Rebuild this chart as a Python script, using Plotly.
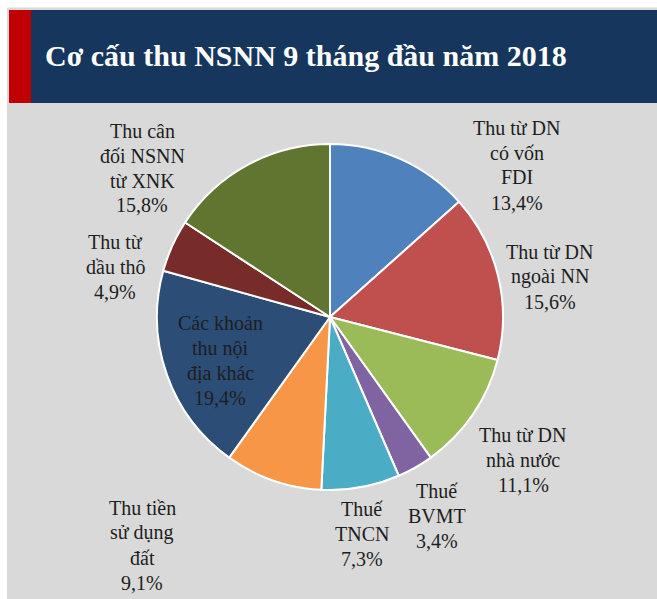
import plotly.graph_objects as go

W, H = 657, 599

title = "Cơ cấu thu NSNN 9 tháng đầu năm 2018"
categories = [
    "Thu từ DN<br>có vốn<br>FDI",
    "Thu từ DN<br>ngoài NN",
    "Thu từ DN<br>nhà nước",
    "Thuế<br>BVMT",
    "Thuế<br>TNCN",
    "Thu tiền<br>sử dụng<br>đất",
    "Các khoản<br>thu nội<br>địa khác",
    "Thu từ<br>dầu thô",
    "Thu cân<br>đối NSNN<br>từ XNK",
]
values = [13.4, 15.6, 11.1, 3.4, 7.3, 9.1, 19.4, 4.9, 15.8]
pct_labels = ["13,4%", "15,6%", "11,1%", "3,4%", "7,3%", "9,1%", "19,4%", "4,9%", "15,8%"]

colors = ["#4f81bd", "#c0504d", "#9bbb59", "#8064a2", "#4bacc6",
          "#f79646", "#2c4d75", "#772c2a", "#5f7530"]

# label block centre positions in pixels (x, y)
label_pos = [(517, 165), (550, 277), (523, 460), (437, 516), (362, 534),
             (142, 545), (220, 360), (115, 267), (142, 168)]
LINE_H = 25


def px(x):
    return x / W


def py(y):
    return 1 - y / H


cx, cy, r = 330, 317, 173

fig = go.Figure()
fig.add_trace(go.Pie(
    labels=[c.replace("<br>", " ") for c in categories],
    values=values,
    sort=False,
    direction="clockwise",
    rotation=0,
    textinfo="none",
    marker=dict(colors=colors, line=dict(color="white", width=2)),
    domain=dict(x=[px(cx - r), px(cx + r)], y=[py(cy + r), py(cy - r)]),
    showlegend=False,
))

shapes = [
    dict(type="rect", xref="paper", yref="paper", x0=px(7), x1=1.0, y0=0, y1=py(7.5),
         fillcolor="#d9d9d9", line=dict(width=0), layer="below"),
    dict(type="rect", xref="paper", yref="paper", x0=px(9), x1=1.0, y0=py(103), y1=py(10),
         fillcolor="#17365d", line=dict(width=0), layer="below"),
    dict(type="rect", xref="paper", yref="paper", x0=px(9), x1=px(31), y0=py(103), y1=py(10),
         fillcolor="#c00000", line=dict(width=0), layer="below"),
]

annotations = [
    dict(text="<b>" + title + "</b>", xref="paper", yref="paper", x=px(43), y=py(56),
         xanchor="left", yanchor="middle", showarrow=False,
         font=dict(family="Liberation Serif", size=30, color="white")),
]
for cat, pct, (lx, ly) in zip(categories, pct_labels, label_pos):
    lines = cat.split("<br>") + [pct]
    n = len(lines)
    for i, line in enumerate(lines):
        yy = ly + (i - (n - 1) / 2) * LINE_H
        annotations.append(dict(
            text=line, xref="paper", yref="paper", x=px(lx), y=py(yy),
            xanchor="center", yanchor="middle", showarrow=False, align="center",
            font=dict(family="Liberation Serif", size=20, color="#1e1e1e"),
        ))

fig.update_layout(
    width=W, height=H,
    margin=dict(l=0, r=0, t=0, b=0),
    paper_bgcolor="white",
    plot_bgcolor="white",
    shapes=shapes,
    annotations=annotations,
)

fig.write_html(
    "out.html",
    config={"displayModeBar": False},
    post_script="document.body.style.margin='0';document.body.style.overflow='hidden';",
)
